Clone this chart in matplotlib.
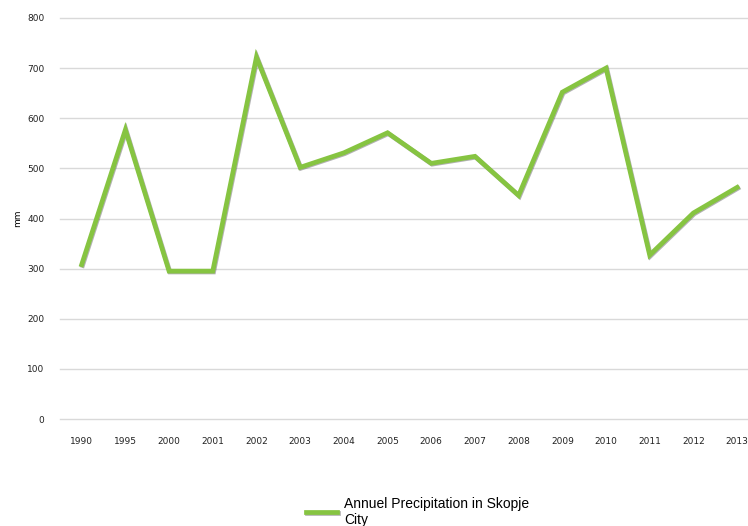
import matplotlib
matplotlib.use('Agg')
import matplotlib.pyplot as plt
import matplotlib.patheffects as pe

years = ['1990', '1995', '2000', '2001', '2002', '2003', '2004', '2005',
         '2006', '2007', '2008', '2009', '2010', '2011', '2012', '2013']
precip = [308, 577, 295, 295, 722, 502, 531, 571, 510, 524, 446, 652, 700, 327, 411, 462]
yticks = [0, 100, 200, 300, 400, 500, 600, 700, 800]

fig = plt.figure(figsize=(7.48, 5.26), dpi=100)
ax = fig.add_axes([0.080, 0.2034, 0.92, 0.7624])

x = list(range(len(years)))
line, = ax.plot(x, precip, color='#86c441', lw=3.4, solid_joinstyle='miter',
                label='Annuel Precipitation in Skopje\nCity',
                path_effects=[pe.SimpleLineShadow(offset=(0.6, -0.6), shadow_color='#555555', alpha=0.45),
                              pe.Normal()])

ax.set_ylim(0, 800)
ax.set_xlim(-0.5, 15.25)
ax.set_yticks(yticks)
ax.set_xticks(x)
ax.set_xticklabels(years)
ax.grid(axis='y', color='#d9d9d9', lw=1)
for gl in ax.get_ygridlines():
    gl.set_clip_on(False)
ax.set_axisbelow(True)
for s in ax.spines.values():
    s.set_visible(False)
ax.tick_params(length=0, labelsize=6.5, colors='#222222')
ax.tick_params(axis='x', pad=13)
ax.tick_params(axis='y', pad=11)
ax.set_ylabel('mm', fontsize=6.5, labelpad=4)

fig.legend(handles=[line], loc='center left', bbox_to_anchor=(0.393, 0.027),
           frameon=False, prop={'family': 'Liberation Sans', 'size': 10},
           handlelength=2.2, handletextpad=0.5)

fig.savefig('out.png', dpi=100)
